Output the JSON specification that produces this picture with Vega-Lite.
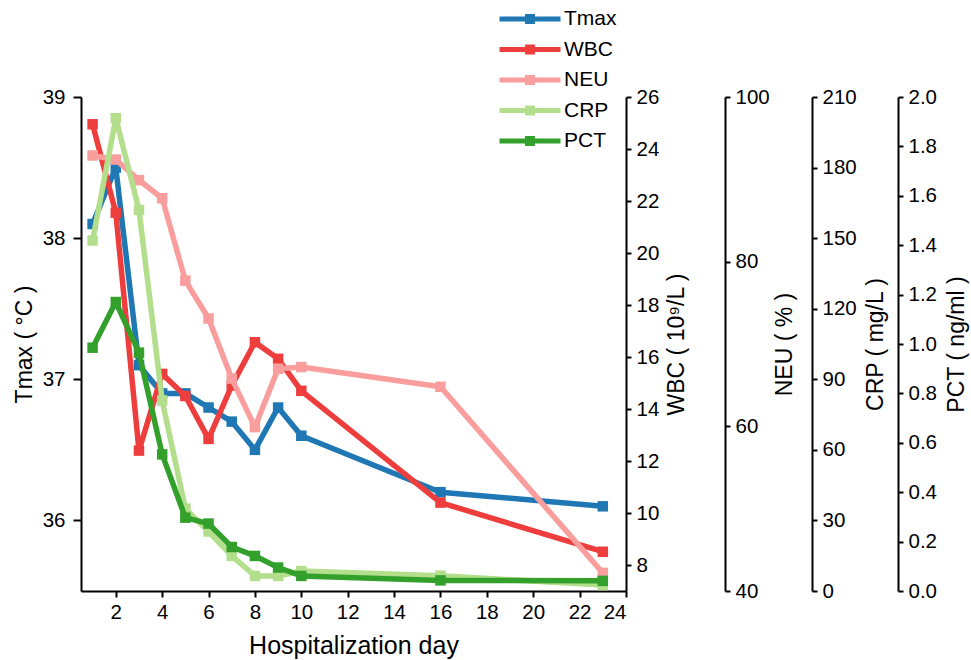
{
  "$schema": "https://vega.github.io/schema/vega-lite/v6.json",
  "width": 545,
  "height": 494,
  "autosize": {"type": "none"},
  "padding": {"left": 81, "top": 97, "right": 345, "bottom": 69},
  "config": {
    "view": {"stroke": null},
    "font": "Liberation Sans, Arial, Noto Sans CJK SC",
    "axis": {
      "grid": false,
      "domainColor": "#000000",
      "domainWidth": 2,
      "tickColor": "#000000",
      "tickWidth": 2,
      "tickSize": 5,
      "labelFontSize": 20.5,
      "labelColor": "#000000",
      "labelFont": "Liberation Sans, Arial",
      "titleFontSize": 23,
      "titleFontWeight": "normal",
      "titleColor": "#000000",
      "titleFont": "Liberation Sans, Arial, Noto Sans CJK SC"
    }
  },
  "data": {
    "values": [
      {"day": 1, "Tmax": 38.1, "WBC": 24.95, "NEU": 92.9, "CRP": 149, "PCT": 0.985},
      {"day": 2, "Tmax": 38.5, "WBC": 21.55, "NEU": 92.4, "CRP": 201, "PCT": 1.17},
      {"day": 3, "Tmax": 37.1, "WBC": 12.4, "NEU": 89.9, "CRP": 162, "PCT": 0.965},
      {"day": 4, "Tmax": 36.9, "WBC": 15.35, "NEU": 87.7, "CRP": 81, "PCT": 0.553},
      {"day": 5, "Tmax": 36.9, "WBC": 14.5, "NEU": 77.7, "CRP": 35, "PCT": 0.297},
      {"day": 6, "Tmax": 36.8, "WBC": 12.85, "NEU": 73.1, "CRP": 25.3, "PCT": 0.273},
      {"day": 7, "Tmax": 36.7, "WBC": 14.9, "NEU": 65.8, "CRP": 14.9, "PCT": 0.178},
      {"day": 8, "Tmax": 36.5, "WBC": 16.57, "NEU": 59.9, "CRP": 6.4, "PCT": 0.142},
      {"day": 9, "Tmax": 36.8, "WBC": 15.93, "NEU": 67.0, "CRP": 6.4, "PCT": 0.095},
      {"day": 10, "Tmax": 36.6, "WBC": 14.7, "NEU": 67.2, "CRP": 8.5, "PCT": 0.061},
      {"day": 16, "Tmax": 36.2, "WBC": 10.4, "NEU": 64.8, "CRP": 6.5, "PCT": 0.043},
      {"day": 23, "Tmax": 36.1, "WBC": 8.51, "NEU": 42.2, "CRP": 2.5, "PCT": 0.041}
    ]
  },
  "encoding": {
    "x": {
      "field": "day",
      "type": "quantitative",
      "scale": {"domain": [0.5, 24], "nice": false, "zero": false},
      "axis": {
        "title": "Hospitalization day",
        "values": [2, 4, 6, 8, 10, 12, 14, 16, 18, 20, 22, 24],
        "tickSize": 6,
        "labelPadding": 5,
        "titleFontSize": 25,
        "titlePadding": 11
      }
    }
  },
  "layer": [
    {
      "mark": {"type": "line", "strokeWidth": 5.5, "strokeJoin": "round", "strokeCap": "round", "point": {"shape": "square", "size": 110, "filled": true, "opacity": 1}},
      "encoding": {
        "y": {
          "field": "Tmax", "type": "quantitative",
          "scale": {"domain": [35.5, 39], "nice": false, "zero": false},
          "axis": {"orient": "left", "title": "Tmax ( °C )", "values": [36, 37, 38, 39], "tickSize": 8, "labelPadding": 8, "titlePadding": 6}
        },
        "color": {
          "datum": "Tmax", "type": "nominal",
          "scale": {"domain": ["Tmax", "WBC", "NEU", "CRP", "PCT"], "range": ["#1f77b4", "#ee3d3d", "#f99d9d", "#b3de8c", "#33a02c"]},
          "legend": {
            "title": null, "orient": "none", "legendX": 416, "legendY": -91, "padding": 0,
            "symbolType": "M-1,0H1M-0.08,-0.08H0.08V0.08H-0.08Z",
            "symbolSize": 3721, "symbolStrokeWidth": 5, "clipHeight": 26, "rowPadding": 4.5,
            "labelFontSize": 21, "labelOffset": 1, "labelColor": "#000000", "labelFont": "Liberation Sans, Arial"
          }
        }
      }
    },
    {
      "mark": {"type": "line", "strokeWidth": 5.5, "strokeJoin": "round", "strokeCap": "round", "point": {"shape": "square", "size": 110, "filled": true, "opacity": 1}},
      "encoding": {
        "y": {
          "field": "WBC", "type": "quantitative",
          "scale": {"domain": [7, 26], "nice": false, "zero": false},
          "axis": {"orient": "right", "offset": 0, "title": "WBC ( 10⁹/L )", "values": [8, 10, 12, 14, 16, 18, 20, 22, 24, 26], "labelPadding": 5, "titleAngle": 270, "titleBaseline": "top", "titlePadding": 7}
        },
        "color": {"datum": "WBC", "type": "nominal"}
      }
    },
    {
      "mark": {"type": "line", "strokeWidth": 5.5, "strokeJoin": "round", "strokeCap": "round", "point": {"shape": "square", "size": 110, "filled": true, "opacity": 1}},
      "encoding": {
        "y": {
          "field": "NEU", "type": "quantitative",
          "scale": {"domain": [40, 100], "nice": false, "zero": false},
          "axis": {"orient": "right", "offset": 99, "title": "NEU ( % )", "values": [40, 60, 80, 100], "labelPadding": 5, "titleAngle": 270, "titleBaseline": "top", "titlePadding": 4}
        },
        "color": {"datum": "NEU", "type": "nominal"}
      }
    },
    {
      "mark": {"type": "line", "strokeWidth": 5.5, "strokeJoin": "round", "strokeCap": "round", "point": {"shape": "square", "size": 110, "filled": true, "opacity": 1}},
      "encoding": {
        "y": {
          "field": "CRP", "type": "quantitative",
          "scale": {"domain": [0, 210], "nice": false},
          "axis": {"orient": "right", "offset": 186, "title": "CRP ( mg/L )", "values": [0, 30, 60, 90, 120, 150, 180, 210], "labelPadding": 5, "titleAngle": 270, "titleBaseline": "top", "titlePadding": 8}
        },
        "color": {"datum": "CRP", "type": "nominal"}
      }
    },
    {
      "mark": {"type": "line", "strokeWidth": 5.5, "strokeJoin": "round", "strokeCap": "round", "point": {"shape": "square", "size": 110, "filled": true, "opacity": 1}},
      "encoding": {
        "y": {
          "field": "PCT", "type": "quantitative",
          "scale": {"domain": [0, 2], "nice": false},
          "axis": {"orient": "right", "offset": 272, "title": "PCT ( ng/ml )", "values": [0, 0.2, 0.4, 0.6, 0.8, 1.0, 1.2, 1.4, 1.6, 1.8, 2.0], "format": ".1f", "labelPadding": 5, "titleAngle": 270, "titleBaseline": "top", "titlePadding": 9}
        },
        "color": {"datum": "PCT", "type": "nominal"}
      }
    }
  ],
  "resolve": {"scale": {"y": "independent"}, "axis": {"y": "independent"}}
}
